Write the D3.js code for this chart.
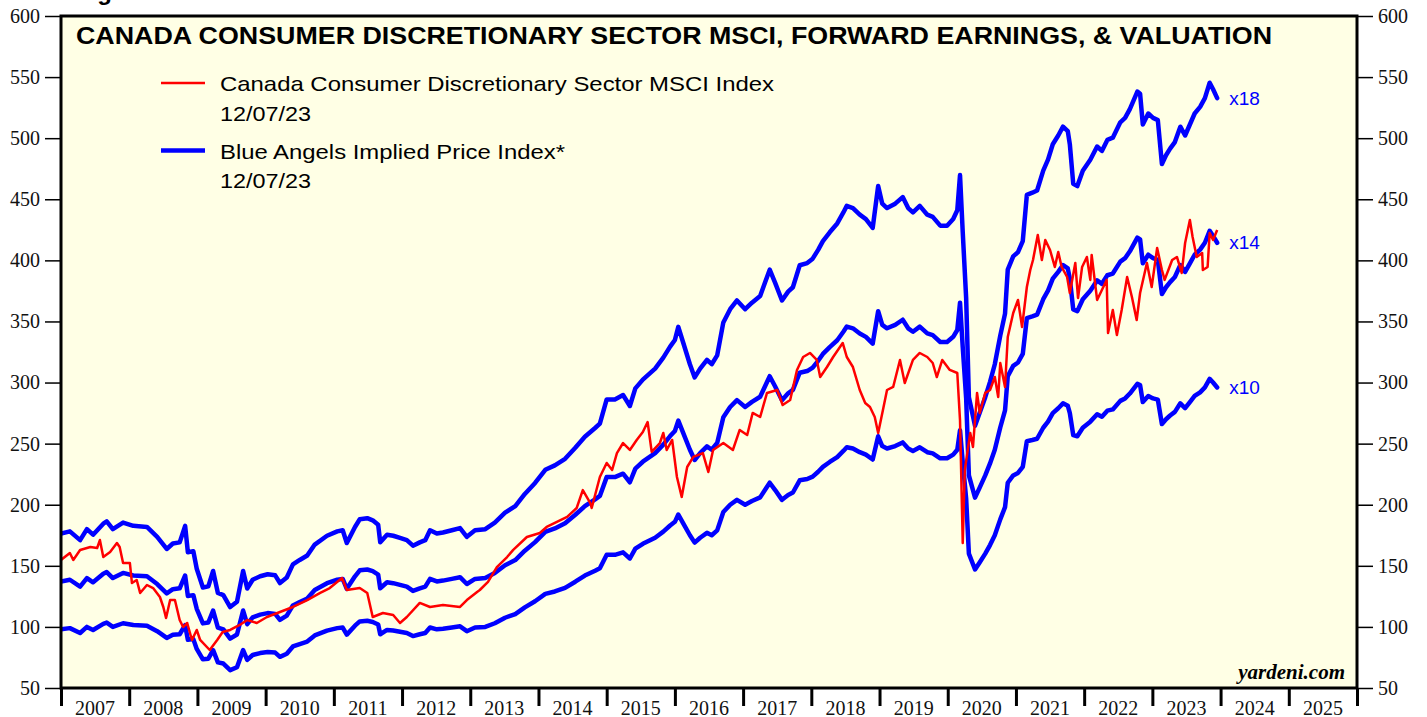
<!DOCTYPE html>
<html><head><meta charset="utf-8">
<script src="https://cdn.jsdelivr.net/npm/d3@7"></script>
<style>body{margin:0;background:#fff;overflow:hidden}</style>
</head><body>
<svg id="c" width="1427" height="717"></svg>
<script>
// ---------- DATA ----------
const title = "CANADA CONSUMER DISCRETIONARY SECTOR MSCI, FORWARD EARNINGS, & VALUATION";
const yTicks = [50,100,150,200,250,300,350,400,450,500,550,600];
const yearLabels = [2007,2008,2009,2010,2011,2012,2013,2014,2015,2016,2017,2018,2019,2020,2021,2022,2023,2024,2025];
const multiples = [10,14,18];
const multipleLabels = ["x10","x14","x18"];

// forward earnings (decimal year, index points)
const fwdDates = [2007.00,2007.13,2007.28,2007.38,2007.47,2007.62,2007.67,2007.76,2007.91,2008.06,2008.26,2008.41,2008.55,2008.64,2008.74,2008.82,2008.86,2008.94,2008.99,2009.08,2009.16,2009.23,2009.30,2009.38,2009.48,2009.58,2009.67,2009.73,2009.81,2009.92,2010.03,2010.14,2010.21,2010.31,2010.40,2010.50,2010.61,2010.72,2010.90,2011.05,2011.13,2011.19,2011.31,2011.38,2011.49,2011.57,2011.65,2011.68,2011.78,2011.87,2011.97,2012.07,2012.16,2012.26,2012.34,2012.41,2012.51,2012.60,2012.73,2012.85,2012.95,2013.07,2013.22,2013.36,2013.51,2013.66,2013.80,2013.95,2014.10,2014.24,2014.39,2014.54,2014.68,2014.83,2014.90,2015.00,2015.12,2015.24,2015.34,2015.42,2015.53,2015.71,2015.83,2015.93,2016.00,2016.05,2016.12,2016.22,2016.29,2016.37,2016.47,2016.54,2016.62,2016.71,2016.81,2016.91,2017.03,2017.13,2017.25,2017.32,2017.39,2017.47,2017.57,2017.66,2017.73,2017.83,2017.94,2018.02,2018.10,2018.17,2018.27,2018.38,2018.47,2018.52,2018.61,2018.71,2018.80,2018.90,2018.98,2019.04,2019.11,2019.23,2019.34,2019.42,2019.49,2019.59,2019.70,2019.78,2019.89,2019.99,2020.08,2020.14,2020.18,2020.22,2020.27,2020.31,2020.40,2020.47,2020.55,2020.62,2020.69,2020.77,2020.84,2020.88,2020.96,2021.03,2021.10,2021.16,2021.24,2021.31,2021.40,2021.47,2021.54,2021.62,2021.69,2021.76,2021.79,2021.84,2021.90,2021.98,2022.09,2022.19,2022.26,2022.34,2022.42,2022.53,2022.60,2022.67,2022.78,2022.82,2022.86,2022.94,2023.01,2023.08,2023.14,2023.20,2023.26,2023.33,2023.41,2023.48,2023.55,2023.62,2023.70,2023.77,2023.84,2023.89,2023.95];
const fwdEarnings = [9.80,9.90,9.50,10.00,9.75,10.25,10.35,10.00,10.30,10.15,10.10,9.65,9.10,9.35,9.40,10.15,8.95,9.00,8.20,7.35,7.40,8.10,7.10,7.00,6.46,6.70,8.10,7.30,7.70,7.86,7.95,7.90,7.55,7.80,8.40,8.60,8.80,9.30,9.70,9.90,9.95,9.37,10.10,10.45,10.50,10.40,10.20,9.40,9.75,9.70,9.60,9.50,9.25,9.40,9.50,9.95,9.80,9.85,9.95,10.05,9.65,9.95,10.00,10.30,10.75,11.05,11.60,12.10,12.70,12.90,13.20,13.70,14.20,14.60,14.80,15.90,15.90,16.10,15.60,16.40,16.80,17.30,17.80,18.30,18.60,19.20,18.50,17.50,16.90,17.30,17.70,17.50,17.90,19.40,20.00,20.40,20.00,20.30,20.60,21.20,21.80,21.20,20.40,20.80,21.00,22.00,22.10,22.30,22.70,23.10,23.50,23.90,24.40,24.70,24.60,24.30,24.10,23.70,25.60,24.80,24.60,24.80,25.10,24.60,24.40,24.70,24.30,24.20,23.80,23.80,24.10,24.50,26.10,23.50,20.50,16.00,14.70,15.30,16.00,16.70,17.50,18.80,19.80,21.80,22.40,22.60,23.10,25.20,25.30,25.40,26.30,26.80,27.50,27.90,28.30,28.10,27.50,25.70,25.60,26.30,26.80,27.40,27.20,27.70,27.80,28.50,28.70,29.10,29.90,29.80,28.40,28.90,28.70,28.60,26.60,27.00,27.30,27.60,28.30,27.90,28.40,28.90,29.20,29.60,30.30,30.00,29.60];

// Canada Consumer Discretionary Sector MSCI Index
const msciDates = [2007.00,2007.13,2007.18,2007.28,2007.43,2007.53,2007.57,2007.62,2007.72,2007.82,2007.86,2007.91,2008.01,2008.04,2008.11,2008.16,2008.26,2008.35,2008.45,2008.50,2008.54,2008.60,2008.67,2008.74,2008.79,2008.85,2008.92,2008.99,2009.04,2009.18,2009.29,2009.37,2009.48,2009.62,2009.73,2009.87,2010.02,2010.21,2010.40,2010.61,2010.80,2010.94,2011.12,2011.19,2011.38,2011.49,2011.57,2011.72,2011.87,2011.97,2012.07,2012.26,2012.41,2012.60,2012.85,2012.95,2013.10,2013.14,2013.26,2013.39,2013.54,2013.63,2013.83,2014.02,2014.12,2014.27,2014.42,2014.56,2014.65,2014.76,2014.78,2014.90,2015.00,2015.08,2015.15,2015.24,2015.34,2015.44,2015.53,2015.60,2015.66,2015.78,2015.83,2015.88,2015.96,2016.03,2016.10,2016.18,2016.27,2016.41,2016.49,2016.56,2016.71,2016.85,2016.95,2017.06,2017.14,2017.25,2017.35,2017.50,2017.58,2017.69,2017.79,2017.88,2017.98,2018.08,2018.13,2018.23,2018.32,2018.42,2018.46,2018.52,2018.61,2018.71,2018.79,2018.86,2018.93,2018.98,2019.05,2019.11,2019.20,2019.30,2019.37,2019.49,2019.59,2019.70,2019.78,2019.84,2019.92,2020.03,2020.14,2020.18,2020.22,2020.25,2020.33,2020.37,2020.43,2020.47,2020.55,2020.62,2020.69,2020.74,2020.77,2020.84,2020.88,2020.96,2021.03,2021.09,2021.16,2021.21,2021.25,2021.32,2021.38,2021.43,2021.50,2021.57,2021.62,2021.67,2021.75,2021.79,2021.87,2021.91,2021.97,2022.04,2022.09,2022.11,2022.19,2022.26,2022.33,2022.35,2022.42,2022.48,2022.55,2022.63,2022.70,2022.77,2022.82,2022.92,2022.99,2023.07,2023.14,2023.18,2023.29,2023.36,2023.43,2023.48,2023.55,2023.59,2023.65,2023.73,2023.74,2023.81,2023.84,2023.89,2023.95];
const msciValues = [154.8,160.5,154.8,163.0,165.4,164.6,171.1,157.2,161.3,168.7,165.4,152.3,152.3,135.9,138.4,127.8,134.3,131.8,124.5,116.3,107.3,122.0,122.0,105.7,99.9,103.2,89.3,97.5,89.3,81.1,89.3,95.8,97.5,101.6,105.7,103.2,108.1,112.2,116.3,122.0,127.8,131.8,140.0,130.2,131.8,127.8,108.1,111.4,109.7,103.2,108.1,119.6,116.3,117.9,116.3,122.0,128.6,130.2,136.8,149.0,157.2,163.0,173.6,176.9,181.8,185.9,190.0,197.3,212.0,201.4,197.3,222.7,234.2,228.4,242.3,250.5,244.8,253.0,259.5,267.7,243.2,250.5,258.7,244.8,253.0,222.7,206.4,230.9,239.1,242.3,226.8,244.8,250.5,244.8,261.2,257.1,275.1,271.8,291.5,293.9,281.6,285.7,310.3,320.9,324.2,318.5,304.5,312.7,320.9,329.1,332.4,320.9,312.7,293.9,283.3,280.0,271.8,258.7,277.5,293.9,296.4,318.5,299.6,318.5,324.2,320.9,316.0,304.5,318.5,310.3,307.8,269.3,168.7,228.4,258.7,247.3,291.5,275.1,291.5,293.9,304.5,288.2,316.0,296.4,337.3,356.9,367.6,345.5,378.2,392.1,400.3,420.8,400.3,416.7,408.5,394.6,406.9,394.6,386.4,373.3,397.9,369.2,394.6,402.8,384.0,404.4,367.6,375.8,384.0,340.6,359.4,338.9,359.4,386.4,370.0,351.2,373.3,397.9,378.2,410.1,392.1,384.0,400.3,402.8,389.7,414.2,433.0,419.1,402.8,406.0,392.1,394.6,422.4,416.7,424.9];

const legendItems = [
  {label:"Canada Consumer Discretionary Sector MSCI Index", date:"12/07/23", color:"#ff0000", width:2.5},
  {label:"Blue Angels Implied Price Index*", date:"12/07/23", color:"#0000ff", width:4.5}
];

// ---------- CHART ----------
const svg = d3.select("#c");
const L = 61, R = 1357, T = 16, B = 688;
const x = d3.scaleLinear().domain([2007, 2026]).range([L, R]);
const y = d3.scaleLinear().domain([50, 600]).range([B, T]);
const sans = "Liberation Sans, Arial, sans-serif";
const serif = "Liberation Serif, Times New Roman, serif";

svg.append("text").attr("x", 76).attr("y", 0)
  .attr("font-family", sans).attr("font-weight", "bold")
  .attr("font-size", 24).attr("fill", "#000").text("Figure");

svg.append("rect").attr("x", L).attr("y", T).attr("width", R - L).attr("height", B - T)
  .attr("fill", "#ffffe5");

svg.append("defs").append("clipPath").attr("id", "clip")
  .append("rect").attr("x", L).attr("y", T).attr("width", R - L).attr("height", B - T);

const plot = svg.append("g").attr("clip-path", "url(#clip)");

const fwd = fwdDates.map((d, i) => ({d, e: fwdEarnings[i]}));
const msci = msciDates.map((d, i) => ({d, v: msciValues[i]}));

multiples.forEach(m => {
  plot.append("path").datum(fwd)
    .attr("fill", "none").attr("stroke", "#0000ff").attr("stroke-width", 4.5)
    .attr("stroke-linejoin", "round").attr("stroke-linecap", "round")
    .attr("d", d3.line().x(p => x(p.d)).y(p => y(p.e * m)));
});

plot.append("path").datum(msci)
  .attr("fill", "none").attr("stroke", "#ff0000").attr("stroke-width", 2.5)
  .attr("stroke-linejoin", "round")
  .attr("d", d3.line().x(p => x(p.d)).y(p => y(p.v)));

// multiple labels at end of series
const last = fwd[fwd.length - 1];
multiples.forEach((m, i) => {
  svg.append("text").attr("x", x(last.d) + 12).attr("y", y(last.e * m)).attr("dy", "0.35em")
    .attr("font-family", sans).attr("font-size", 19)
    .attr("fill", "#0000ff").text(multipleLabels[i]);
});

// frame
svg.append("rect").attr("x", L).attr("y", T).attr("width", R - L).attr("height", B - T)
  .attr("fill", "none").attr("stroke", "#000").attr("stroke-width", 3);

// axes
const yl = svg.append("g").attr("transform", `translate(${L},0)`)
  .call(d3.axisLeft(y).tickValues(yTicks).tickSize(16).tickSizeOuter(0).tickPadding(5));
const yr = svg.append("g").attr("transform", `translate(${R},0)`)
  .call(d3.axisRight(y).tickValues(yTicks).tickSize(16).tickSizeOuter(0).tickPadding(5));
[yl, yr].forEach(g => {
  g.select(".domain").remove();
  g.selectAll("line").attr("stroke", "#000").attr("stroke-width", 1.5);
  g.selectAll("text").attr("font-family", serif).attr("font-size", 20).attr("fill", "#111");
});

const yearTicks = yearLabels.concat([2026]);
const xb = svg.append("g").attr("transform", `translate(0,${B})`)
  .call(d3.axisBottom(x).tickValues(yearTicks).tickSize(18).tickSizeOuter(0).tickFormat(""));
xb.select(".domain").remove();
xb.selectAll("line").attr("stroke", "#000").attr("stroke-width", 3);

svg.append("g").selectAll("text").data(yearLabels).join("text")
  .attr("x", d => x(d + 0.5)).attr("y", 715).attr("text-anchor", "middle")
  .attr("font-family", serif).attr("font-size", 20).attr("fill", "#111").text(d => d);

// title
svg.append("text").attr("x", 76).attr("y", 44)
  .attr("font-family", sans).attr("font-weight", "bold")
  .attr("font-size", 24).attr("fill", "#000")
  .attr("textLength", 1196).attr("lengthAdjust", "spacingAndGlyphs").text(title);

// legend
const labelLens = [554, 345];
const lg = svg.append("g");
legendItems.forEach((it, i) => {
  const yy = 83 + i * 67.5;
  lg.append("line").attr("x1", 161).attr("x2", 205).attr("y1", yy).attr("y2", yy)
    .attr("stroke", it.color).attr("stroke-width", it.width);
  lg.append("text").attr("x", 220).attr("y", yy + 8).attr("font-family", sans)
    .attr("font-size", 21).attr("fill", "#000")
    .attr("textLength", labelLens[i]).attr("lengthAdjust", "spacingAndGlyphs").text(it.label);
  lg.append("text").attr("x", 220).attr("y", yy + 37.5).attr("font-family", sans)
    .attr("font-size", 21).attr("fill", "#000")
    .attr("textLength", 91).attr("lengthAdjust", "spacingAndGlyphs").text(it.date);
});

// source
svg.append("text").attr("x", 1345).attr("y", 679).attr("text-anchor", "end")
  .attr("font-family", serif).attr("font-weight", "bold").attr("font-style", "italic")
  .attr("font-size", 21).attr("fill", "#000").text("yardeni.com");
</script>
</body></html>
